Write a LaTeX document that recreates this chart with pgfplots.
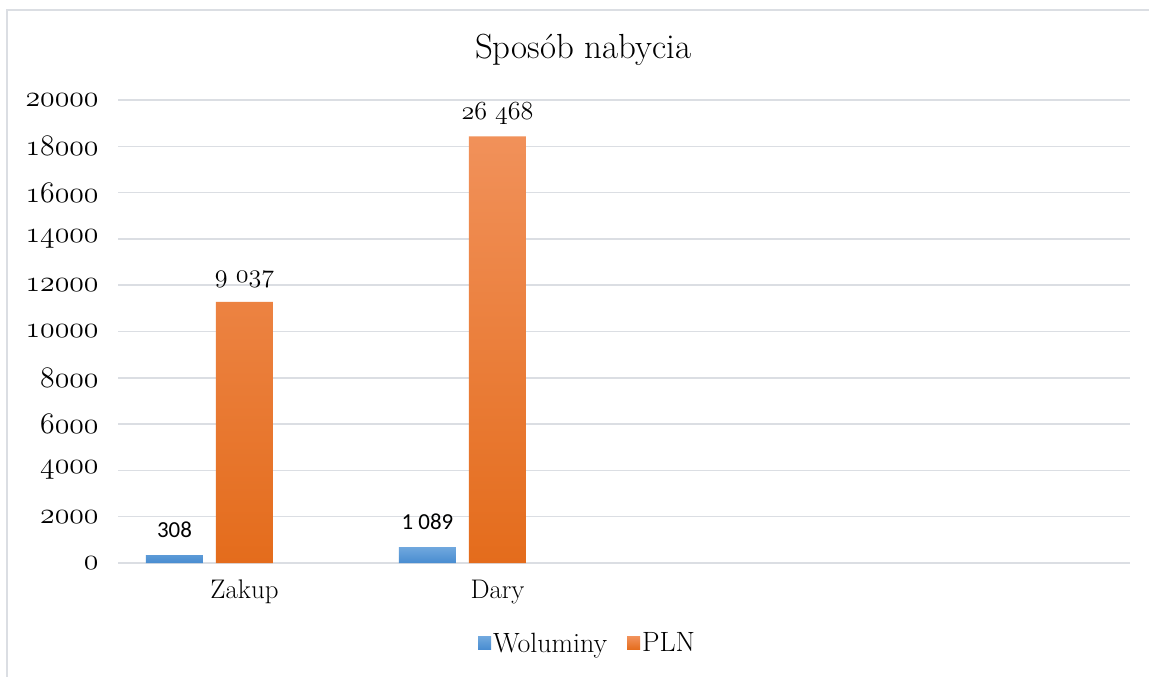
\documentclass[border=0pt]{standalone}
\usepackage{pgfplots}
\pgfplotsset{compat=1.18}
\usepackage{fontspec}
\newfontfamily\carlito{Carlito}
\definecolor{gridc}{RGB}{219,222,227}
\definecolor{framec}{RGB}{219,222,227}
\definecolor{blueT}{RGB}{112,168,222}
\definecolor{blueB}{RGB}{72,140,208}
\definecolor{orT}{RGB}{241,145,90}
\definecolor{orB}{RGB}{228,108,28}
\newcommand\osn[1]{{\usefont{OML}{lmm}{m}{it}#1}}
\newcommand\osb[1]{\scalebox{1.2}{\osn{#1}}}
\begin{document}
\begin{tikzpicture}
\useasboundingbox (0bp,0bp) rectangle (1149bp,677bp);
\fill[white] (0bp,0bp) rectangle (1149bp,677bp);
\draw[framec, line width=1.5bp] (7bp,-20bp) -- (7bp,667bp) -- (1170bp,667bp);
\node[font=\fontsize{35}{42}\selectfont] at (583bp,627bp) {Sposób nabycia};
\begin{axis}[
  at={(118bp,114bp)}, anchor=south west,
  scale only axis, width=1012bp, height=463bp,
  xmin=-0.5, xmax=3.5, ymin=0, ymax=20000,
  ybar, bar width=57bp,
  xtick={0,1}, xticklabels={Zakup,Dary},
  ytick={0,2000,...,20000},
  yticklabels={\osb{0},\osb{2000},\osb{4000},\osb{6000},\osb{8000},\osb{10000},\osb{12000},\osb{14000},\osb{16000},\osb{18000},\osb{20000}},
  scaled y ticks=false,
  ymajorgrids, grid style={color=gridc, line width=1.5bp},
  axis line style={draw=none}, major tick style={draw=none},
  xticklabel style={font=\fontsize{27}{32}\selectfont, yshift=-9bp},
  yticklabel style={font=\fontsize{24}{29}\selectfont, xshift=-16bp},
  clip=false,
  legend style={at={(0.464,-0.173)}, anchor=center, draw=none, fill=none,
    legend columns=2, font=\fontsize{28}{33}\selectfont,
    /tikz/every even column/.append style={column sep=18bp},
    nodes={inner sep=2bp}},
  legend image code/.code={\fill[#1] (0bp,-6.5bp) rectangle (13bp,6.5bp);},
]
\addplot[bar shift=-70bp, draw=none, top color=blueT, bottom color=blueB,
  point meta=explicit symbolic, nodes near coords,
  nodes near coords style={font=\carlito\fontsize{23}{27}\selectfont, anchor=center, yshift=25bp, text=black}]
  coordinates {(0,345) [308] (1,690) [1 089]};
\addplot[bar shift=0bp, draw=none, top color=orT, bottom color=orB,
  point meta=explicit symbolic, nodes near coords,
  nodes near coords style={font=\fontsize{26}{31}\selectfont, anchor=center, yshift=23bp, text=black}]
  coordinates {(0,11277) [\scalebox{1.05}{\osn{9} \osn{037}}] (1,18429) [\scalebox{1.05}{\osn{26} \osn{468}}]};
\legend{Woluminy, PLN}
\end{axis}
\end{tikzpicture}
\end{document}
